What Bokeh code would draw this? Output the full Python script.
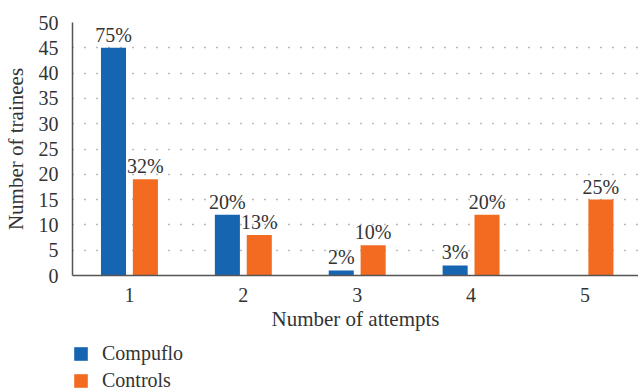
from bokeh.plotting import figure
from bokeh.layouts import column
from bokeh.models import ColumnDataSource, Range1d, Legend, LegendItem, LabelSet, FixedTicker
from bokeh.transform import dodge
from bokeh.embed import file_html
from bokeh.resources import INLINE

attempts = [1, 2, 3, 4, 5]
compuflo = [45, 12, 1, 2, 0]
controls = [19, 8, 6, 12, 15]
compuflo_pct = ["75%", "20%", "2%", "3%", ""]
controls_pct = ["32%", "13%", "10%", "20%", "25%"]
y_ticks = [0, 5, 10, 15, 20, 25, 30, 35, 40, 45, 50]
series_names = ["Compuflo", "Controls"]

FONT = "Liberation Serif"
TXT = "#333333"
BLUE = "#1565b0"
ORANGE = "#f26b21"

src = ColumnDataSource(dict(x=attempts, a=compuflo, b=controls, la=compuflo_pct, lb=controls_pct))

p = figure(width=638, height=336, output_backend="svg", toolbar_location=None,
           x_range=Range1d(0.5, 5.47), y_range=Range1d(0, 50),
           min_border_left=70, min_border_right=0, min_border_top=22, min_border_bottom=61)
p.outline_line_color = None
p.background_fill_color = None
p.border_fill_color = "white"

off = 0.14
w = 0.22
p.vbar(x=dodge("x", -off), top="a", width=w, source=src, color=BLUE, line_color=None)
p.vbar(x=dodge("x", off), top="b", width=w, source=src, color=ORANGE, line_color=None)

for col, lab, o in (("a", "la", -off), ("b", "lb", off)):
    ls = LabelSet(x=dodge("x", o), y=col, text=lab, source=src, text_align="center",
                  text_baseline="bottom", y_offset=2, text_font=FONT, text_font_size="20px",
                  text_color=TXT)
    p.add_layout(ls)

p.xgrid.grid_line_color = None
p.ygrid.grid_line_color = "#777777"
p.ygrid.grid_line_dash = "1 11"
p.ygrid.grid_line_width = 1.5
p.ygrid.ticker = FixedTicker(ticks=y_ticks)

p.xaxis.ticker = FixedTicker(ticks=attempts)
p.yaxis.ticker = FixedTicker(ticks=y_ticks)
for ax in (p.xaxis[0], p.yaxis[0]):
    ax.major_tick_line_color = None
    ax.minor_tick_line_color = None
    ax.axis_line_color = "#555555"
    ax.axis_line_width = 1.5
    ax.major_label_text_font = FONT
    ax.major_label_text_font_size = "20px"
    ax.major_label_text_color = TXT
    ax.axis_label_text_font = FONT
    ax.axis_label_text_font_size = "21px"
    ax.axis_label_text_font_style = "normal"
    ax.axis_label_text_color = TXT
p.xaxis.axis_label = "Number of attempts"
p.yaxis.axis_label = "Number of trainees"
p.xaxis.major_label_standoff = 6
p.yaxis.major_label_standoff = 8
p.xaxis.axis_label_standoff = 2
p.yaxis.axis_label_standoff = 8

# legend panel
q = figure(width=638, height=54, output_backend="svg", toolbar_location=None,
           x_range=Range1d(0, 1), y_range=Range1d(0, 1),
           min_border=0, x_axis_location=None, y_axis_location=None)
q.outline_line_color = None
q.grid.grid_line_color = None
g1 = q.vbar(x=[-5], top=[-5], width=0.1, color=BLUE, line_color=None)
g2 = q.vbar(x=[-5], top=[-5], width=0.1, color=ORANGE, line_color=None)
legend = Legend(items=[LegendItem(label=series_names[0], renderers=[g1]),
                       LegendItem(label=series_names[1], renderers=[g2])],
                location=(0, -2), orientation="vertical",
                glyph_width=17, glyph_height=17, label_standoff=13, spacing=4,
                padding=0, margin=0, border_line_color=None, background_fill_alpha=0,
                label_text_font=FONT, label_text_font_size="20px", label_text_color=TXT)
q.add_layout(legend, "center")

open("out.html", "w").write(file_html(column(p, q, spacing=0), INLINE))
